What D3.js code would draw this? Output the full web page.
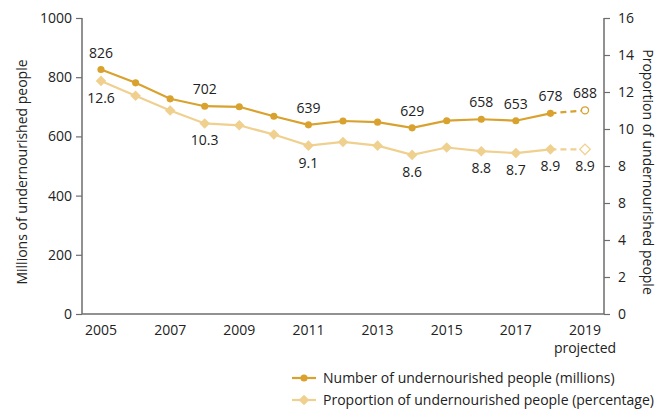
<!DOCTYPE html>
<html><head><meta charset="utf-8">
<script src="https://cdn.jsdelivr.net/npm/d3@7/dist/d3.min.js"></script>
<style>
html,body{margin:0;padding:0;background:#fff;}
svg{display:block;font-family:"Open Sans","Noto Sans",sans-serif;}
</style></head>
<body>
<svg id="chart" width="672" height="409"></svg>
<script>
const years = [2005,2006,2007,2008,2009,2010,2011,2012,2013,2014,2015,2016,2017,2018,2019];
const numberValues = [826,781,727,702,700,668,639,652,648,629,653,658,653,678,688];
const proportionValues = [12.6,11.8,11.0,10.3,10.2,9.7,9.1,9.3,9.1,8.6,9.0,8.8,8.7,8.9,8.9];
const numberLabelYears = [2005,2008,2011,2014,2016,2017,2018,2019];
const proportionLabelYears = [2005,2008,2011,2014,2016,2017,2018,2019];
const xTickYears = [2005,2007,2009,2011,2013,2015,2017,2019];
const leftTicks = [0,200,400,600,800,1000];
const rightTicks = [0,2,4,6,8,10,12,14,16];
const rightTickLabels = ["0","2","4","8","8","10","12","14","16"];
const projectedYear = 2019;
const seriesNames = ["Number of undernourished people (millions)","Proportion of undernourished people (percentage)"];
const colors = ["#D9A22E","#EFD08F"];

const svg = d3.select("#chart");
const pLeft = 82, pRight = 604, pTop = 18, pBottom = 314;
const fs = "14px";
const x = d3.scaleLinear().domain([2005,2019]).range([101,585]);
const yL = d3.scaleLinear().domain([0,1000]).range([pBottom,pTop]);
const yR = d3.scaleLinear().domain([0,16]).range([pBottom,pTop]);
const axisColor = "#6d6d6d";
const textColor = "#222";

const gL = svg.append("g").attr("transform",`translate(${pLeft},0)`)
  .call(d3.axisLeft(yL).tickValues(leftTicks).tickSize(6).tickPadding(4).tickFormat(d3.format("d")));
const gR = svg.append("g").attr("transform",`translate(${pRight},0)`)
  .call(d3.axisRight(yR).tickValues(rightTicks).tickSize(6).tickPadding(8)
    .tickFormat(d=>rightTickLabels[rightTicks.indexOf(d)]));
[gL,gR].forEach(g=>{
  g.select(".domain").attr("stroke",axisColor).attr("stroke-width",1.5).attr("d",`M0,${pBottom}V${pTop}`);
  g.selectAll(".tick line").attr("stroke",axisColor).attr("stroke-width",1.2);
  g.selectAll(".tick text").attr("fill",textColor).style("font-size",fs).style("font-family","'Open Sans',sans-serif");
});
svg.append("line").attr("x1",pLeft).attr("x2",pRight).attr("y1",pBottom).attr("y2",pBottom)
  .attr("stroke",axisColor).attr("stroke-width",1.5);
svg.append("g").selectAll("text").data(xTickYears).enter().append("text")
  .attr("x",d=>x(d)).attr("y",pBottom+21).attr("text-anchor","middle")
  .attr("fill",textColor).style("font-size",fs).text(d=>d);
svg.append("text").attr("x",x(projectedYear)).attr("y",pBottom+39).attr("text-anchor","middle")
  .attr("fill",textColor).style("font-size",fs).text("projected");

svg.append("text").attr("transform",`translate(27,${(pTop+pBottom)/2+6}) rotate(-90)`)
  .attr("text-anchor","middle").attr("fill",textColor).style("font-size",fs)
  .text("Millions of undernourished people");
svg.append("text").attr("transform",`translate(643,${(pTop+pBottom)/2+6}) rotate(90)`)
  .attr("text-anchor","middle").attr("fill",textColor).style("font-size",fs)
  .text("Proportion of undernourished people");

const idx = d3.range(years.length);
const solidIdx = idx.filter(i=>years[i]<=2018);
const dashIdx = idx.filter(i=>years[i]>=2018);

const circleSym = d3.symbol().type(d3.symbolCircle).size(40)();
const diamondSym = d3.symbol().type(d3.symbolSquare).size(56)();

function drawSeries(vals, yScale, color, isDiamond){
  const line = d3.line().x(i=>x(years[i])).y(i=>yScale(vals[i]));
  svg.append("path").attr("d",line(solidIdx)).attr("fill","none").attr("stroke",color).attr("stroke-width",2.2);
  svg.append("path").attr("d",line(dashIdx)).attr("fill","none").attr("stroke",color).attr("stroke-width",2.2).attr("stroke-dasharray","6,4");
  idx.forEach(i=>{
    const proj = years[i]===projectedYear;
    svg.append("path").attr("d",isDiamond?diamondSym:circleSym)
      .attr("transform",`translate(${x(years[i])},${yScale(vals[i])})${isDiamond?" rotate(45)":""}`)
      .attr("fill",proj?"#fff":color).attr("stroke",color).attr("stroke-width",proj?1.3:0);
  });
}
drawSeries(proportionValues, yR, colors[1], true);
drawSeries(numberValues, yL, colors[0], false);

numberLabelYears.forEach(yr=>{
  const i = years.indexOf(yr);
  svg.append("text").attr("x",x(yr)).attr("y",yL(numberValues[i])-12).attr("text-anchor","middle")
    .attr("fill",textColor).style("font-size",fs).text(numberValues[i]);
});
proportionLabelYears.forEach(yr=>{
  const i = years.indexOf(yr);
  svg.append("text").attr("x",x(yr)).attr("y",yR(proportionValues[i])+22).attr("text-anchor","middle")
    .attr("fill",textColor).style("font-size",fs).text(d3.format(".1f")(proportionValues[i]));
});

const leg = svg.append("g");
seriesNames.forEach((name,k)=>{
  const ly = 378 + k*22;
  leg.append("line").attr("x1",292).attr("x2",316).attr("y1",ly).attr("y2",ly).attr("stroke",colors[k]).attr("stroke-width",2.2);
  leg.append("path").attr("d",k===0?circleSym:diamondSym)
    .attr("transform",`translate(304,${ly})${k===1?" rotate(45)":""}`).attr("fill",colors[k]);
  leg.append("text").attr("x",323).attr("y",ly+5).attr("fill",textColor).style("font-size",fs).text(name);
});
</script>
</body></html>
